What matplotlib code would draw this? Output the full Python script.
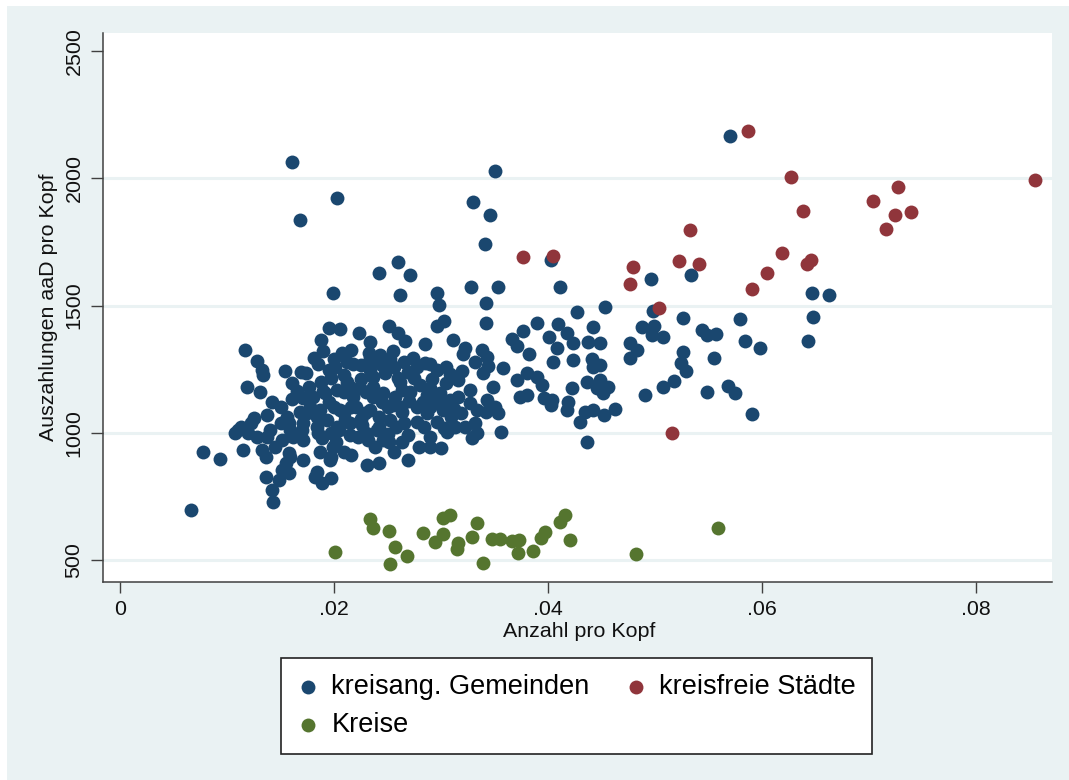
import numpy as np
import matplotlib.pyplot as plt
from matplotlib.patches import Rectangle

plt.rcParams["font.family"] = ["Liberation Sans", "DejaVu Sans"]

NAVY = "#1A476F"
MAROON = "#90353B"
GREEN = "#55752F"
BG = "#EAF2F3"

x_ticks = [0, 0.02, 0.04, 0.06, 0.08]
x_tick_labels = ["0", ".02", ".04", ".06", ".08"]
y_ticks = [500, 1000, 1500, 2000, 2500]
grid_values = [500, 1000, 1500, 2000]

labels = ["kreisang. Gemeinden", "kreisfreie Städte", "Kreise"]

# (Anzahl pro Kopf, Auszahlungen aaD pro Kopf)
gemeinden = np.array([
    (.0161, 2063), (.0203, 1922), (.0168, 1836), (.0350, 2028), (.0330, 1906), (.0346, 1855), (.0341, 1741),
    (.0260, 1671), (.0242, 1627), (.0271, 1620), (.0199, 1549), (.0262, 1541), (.0328, 1572), (.0353, 1572),
    (.0296, 1549), (.0298, 1502), (.0342, 1509), (.0342, 1431), (.0303, 1439), (.0296, 1419), (.0570, 2165),
    (.0403, 1678), (.0411, 1572), (.0496, 1604), (.0534, 1620), (.0647, 1549), (.0663, 1541), (.0648, 1455),
    (.0643, 1360), (.0453, 1494), (.0427, 1474), (.0498, 1478), (.0526, 1451), (.0579, 1447), (.0409, 1427),
    (.0377, 1400), (.0390, 1431),
    (.0195, 1411), (.0206, 1407), (.0251, 1419), (.0260, 1392), (.0223, 1392), (.0188, 1364), (.0266, 1360),
    (.0234, 1356), (.0285, 1348), (.0311, 1364), (.0117, 1325), (.0128, 1282), (.0133, 1246), (.0134, 1227),
    (.0181, 1293), (.0216, 1325), (.0234, 1293), (.0218, 1270), (.0207, 1313), (.0255, 1321), (.0322, 1333),
    (.0321, 1309), (.0338, 1325), (.0332, 1278), (.0344, 1262), (.0274, 1293), (.0285, 1274), (.0296, 1246),
    (.0245, 1266), (.0256, 1258), (.0154, 1242), (.0169, 1238), (.0174, 1235), (.0161, 1195), (.0188, 1199),
    (.0195, 1246), (.0209, 1227), (.0119, 1180), (.0131, 1160), (.0260, 1215), (.0280, 1187), (.0305, 1195),
    (.0316, 1207), (.0327, 1168), (.0236, 1219),
    (.0233, 1313), (.0243, 1305), (.0343, 1297), (.0339, 1235), (.0201, 1258), (.0234, 1246), (.0269, 1238),
    (.0290, 1176), (.0271, 1160), (.0299, 1156), (.0308, 1128), (.0316, 1140), (.0327, 1117), (.0334, 1089),
    (.0343, 1128), (.0203, 1168), (.0215, 1180), (.0224, 1176), (.0236, 1180), (.0246, 1156), (.0257, 1140),
    (.0206, 1089), (.0221, 1101), (.0234, 1089), (.0250, 1101), (.0264, 1081), (.0278, 1101), (.0290, 1101),
    (.0302, 1089),
    (.0142, 1121), (.0137, 1070), (.0150, 1101), (.0161, 1132), (.0171, 1136), (.0180, 1140), (.0192, 1156),
    (.0184, 1062), (.0175, 1077), (.0156, 1062),
    (.0209, 1160), (.0236, 1140), (.0264, 1168), (.0287, 1148), (.0296, 1128), (.0342, 1081), (.0332, 1038),
    (.0322, 1022), (.0329, 979), (.0356, 1003), (.0303, 1018), (.0300, 940), (.0290, 944), (.0279, 944),
    (.0269, 893), (.0256, 924), (.0242, 881), (.0231, 873), (.0216, 912), (.0269, 991), (.0278, 1042),
    (.0258, 1022), (.0242, 1022), (.0226, 1030), (.0242, 1062), (.0229, 1077), (.0209, 1077), (.0193, 1050),
    (.0184, 1022), (.0197, 999), (.0189, 979), (.0202, 964), (.0209, 924), (.0197, 905), (.0187, 924),
    (.0171, 893), (.0158, 920), (.0151, 971), (.0162, 983), (.0145, 944), (.0133, 932), (.0128, 983),
    (.0120, 999), (.0110, 1011), (.0107, 999), (.0113, 1022), (.0122, 1038), (.0115, 932), (.0078, 924),
    (.0093, 897), (.0136, 905), (.0155, 881), (.0151, 854), (.0136, 826), (.0158, 842), (.0149, 814),
    (.0184, 846), (.0189, 802), (.0197, 822), (.0182, 826), (.0142, 775), (.0143, 728), (.0066, 696),
    (.0171, 1038), (.0168, 1081), (.0158, 1038), (.0171, 971), (.0222, 983), (.0232, 971), (.0251, 964),
    (.0238, 944), (.0290, 983), (.0309, 1062), (.0313, 1022), (.0284, 1022), (.0287, 1077), (.0263, 1101),
    (.0216, 1101), (.0200, 1101), (.0187, 1089), (.0319, 1077),
    (.0137, 983), (.0159, 905), (.0159, 1011), (.0203, 1022), (.0215, 1038), (.0240, 1011), (.0296, 1042),
    (.0306, 1003), (.0334, 999), (.0199, 944), (.0196, 893), (.0246, 971), (.0215, 991), (.0264, 964),
    (.0190, 1320), (.0200, 1290), (.0212, 1280), (.0225, 1265), (.0240, 1285), (.0252, 1290), (.0265, 1280),
    (.0278, 1260), (.0290, 1270), (.0305, 1260), (.0185, 1270), (.0197, 1215), (.0212, 1200), (.0225, 1210),
    (.0248, 1235), (.0262, 1200), (.0275, 1215), (.0292, 1210), (.0308, 1230), (.0320, 1245), (.0177, 1180),
    (.0190, 1165), (.0218, 1140), (.0230, 1160), (.0245, 1120), (.0255, 1110), (.0270, 1125), (.0283, 1120),
    (.0300, 1110), (.0312, 1095), (.0165, 1165), (.0178, 1100), (.0195, 1120), (.0210, 1050), (.0225, 1055),
    (.0252, 1050), (.0265, 1040), (.0230, 1000), (.0250, 995), (.0185, 1000), (.0170, 1010), (.0205, 1010),
    (.0150, 1040), (.0140, 1010), (.0125, 1060),
    (.0418, 1392), (.0401, 1376), (.0423, 1352), (.0408, 1333), (.0442, 1415), (.0437, 1356), (.0449, 1352),
    (.0366, 1368), (.0371, 1341), (.0382, 1309), (.0405, 1278), (.0423, 1286), (.0441, 1290), (.0442, 1258),
    (.0449, 1266), (.0488, 1415), (.0499, 1419), (.0497, 1384), (.0507, 1376), (.0477, 1352), (.0483, 1325),
    (.0477, 1293), (.0358, 1254), (.0371, 1207), (.0380, 1235), (.0390, 1219), (.0394, 1187), (.0349, 1180),
    (.0374, 1140), (.0380, 1148), (.0396, 1136), (.0404, 1128), (.0422, 1176), (.0436, 1199), (.0449, 1207),
    (.0456, 1180), (.0446, 1176), (.0451, 1156), (.0419, 1121), (.0418, 1089), (.0350, 1101), (.0353, 1077),
    (.0435, 1081), (.0442, 1089), (.0452, 1070), (.0463, 1093), (.0491, 1148), (.0544, 1403), (.0549, 1384),
    (.0557, 1388), (.0584, 1360), (.0598, 1333), (.0555, 1293), (.0526, 1317), (.0524, 1274), (.0529, 1242),
    (.0507, 1180), (.0518, 1203), (.0549, 1160), (.0568, 1183), (.0575, 1156), (.0591, 1073), (.0436, 964),
    (.0403, 1109), (.0430, 1042),
])

staedte = np.array([
    (.0587, 2185), (.0627, 2004), (.0855, 1993), (.0727, 1965), (.0704, 1910), (.0638, 1871), (.0739, 1867),
    (.0724, 1855), (.0716, 1800), (.0533, 1796), (.0619, 1706), (.0646, 1678), (.0642, 1663), (.0377, 1690),
    (.0405, 1694), (.0479, 1651), (.0477, 1584), (.0522, 1674), (.0541, 1663), (.0605, 1627), (.0591, 1564),
    (.0504, 1490), (.0516, 999),
])

kreise = np.array([
    (.0201, 531), (.0234, 661), (.0236, 626), (.0251, 614), (.0257, 551), (.0252, 484), (.0268, 516),
    (.0283, 606), (.0294, 571), (.0302, 602), (.0302, 665), (.0308, 677), (.0316, 567), (.0315, 543),
    (.0329, 590), (.0334, 645), (.0339, 488), (.0348, 582), (.0355, 582), (.0366, 575), (.0373, 579),
    (.0372, 527), (.0386, 535), (.0393, 586), (.0397, 610), (.0411, 649), (.0416, 677), (.0421, 579),
    (.0482, 524), (.0559, 626),
])

W, H = 1069, 780
fig = plt.figure(figsize=(W / 100, H / 100), dpi=100)
fig.add_artist(Rectangle((7 / W, 0), 1, 1 - 6 / H, transform=fig.transFigure,
                         facecolor=BG, edgecolor="none", zorder=-10))

ax = fig.add_axes([103 / W, 1 - 582 / H, (1052 - 103) / W, (582 - 33) / H])
ax.set_facecolor("white")

for v in grid_values:
    ax.axhline(v, color=BG, lw=2.2, zorder=0)

h_blue = ax.scatter(gemeinden[:, 0], gemeinden[:, 1], s=100, color=NAVY, linewidths=0, zorder=2)
h_red = ax.scatter(staedte[:, 0], staedte[:, 1], s=100, color=MAROON, linewidths=0, zorder=3)
h_green = ax.scatter(kreise[:, 0], kreise[:, 1], s=100, color=GREEN, linewidths=0, zorder=4)

ax.set_xlim(-0.00159, 0.0871)
ax.set_ylim(415, 2570)
ax.set_xticks(x_ticks, x_tick_labels)
ax.set_yticks(y_ticks)

for side in ("top", "right"):
    ax.spines[side].set_visible(False)
for side in ("left", "bottom"):
    ax.spines[side].set_color("#404040")
    ax.spines[side].set_linewidth(1.1)

ax.tick_params(axis="x", length=8, width=1, color="#404040", pad=5, labelsize=15.4, labelcolor="#111111")
ax.tick_params(axis="y", length=8.6, width=1, color="#404040", pad=5.5, labelsize=15.4, labelcolor="#111111")
plt.setp(ax.get_yticklabels(), rotation=90, va="center")

ax.set_xlabel("Anzahl pro Kopf", fontsize=15.4, color="#111111")
ax.set_ylabel("Auszahlungen aaD pro Kopf", fontsize=15.4, color="#111111")
ax.xaxis.set_label_coords(0.5016, -0.072)
ax.yaxis.set_label_coords(-0.047, 0.5)

leg = fig.legend([h_blue, h_green, h_red], [labels[0], labels[2], labels[1]],
                 ncol=2, loc="upper center", bbox_to_anchor=(576.5 / W, 1 - 658 / H),
                 borderaxespad=0, fontsize=19.5, frameon=True, fancybox=False, framealpha=1,
                 edgecolor="#222222", handlelength=0.8, handletextpad=0.45,
                 columnspacing=1.3, borderpad=0.6, labelspacing=0.42, scatterpoints=1)
leg.get_frame().set_linewidth(1.2)

fig.savefig("out.png", dpi=100, facecolor="white")
